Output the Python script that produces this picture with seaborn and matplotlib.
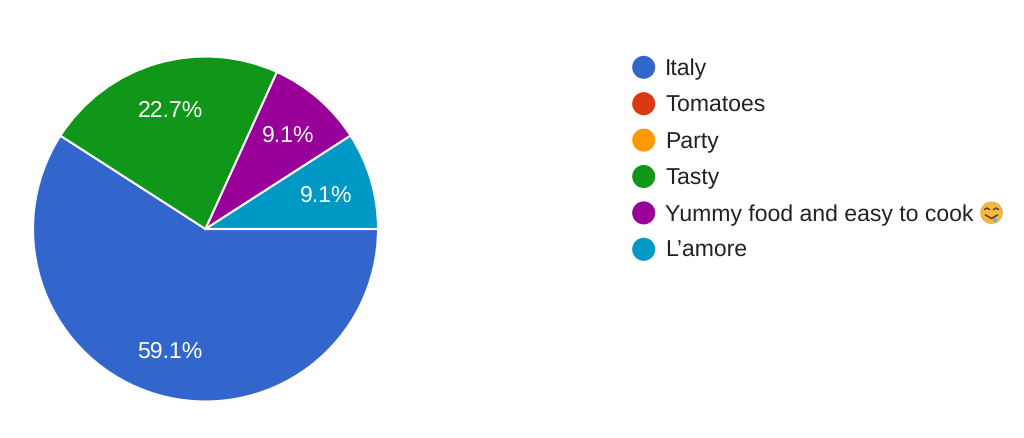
import matplotlib
matplotlib.use("Agg")
import matplotlib.pyplot as plt
from matplotlib.patches import Circle
import seaborn as sns

labels = ['Italy', 'Tomatoes', 'Party', 'Tasty', 'Yummy food and easy to cook', 'L\u2019amore']
values = [59.1, 0, 0, 22.7, 9.1, 9.1]
colors = ['#3366cc', '#dc3912', '#ff9900', '#109618', '#990099', '#0099c6']

sns.set_theme(style='white')
plt.rcParams['font.family'] = ['Liberation Sans', 'DejaVu Sans']
plt.rcParams['text.hinting'] = 'no_hinting'
plt.rcParams['text.hinting_factor'] = 1

fig = plt.figure(figsize=(10.24, 4.38), dpi=100)
W, H = 1024, 438

# pie centred on 205.5,229 with radius 172.5
ax = fig.add_axes([(205.5 - 172.5) / W, 1 - (229 + 172.5) / H, 345 / W, 345 / H])
shown = [(v, c) for v, c in zip(values, colors) if v > 0]
wedges, texts, pcts = ax.pie([s[0] for s in shown], colors=[s[1] for s in shown], startangle=0, counterclock=False,
                             radius=1, wedgeprops={'edgecolor': 'white', 'linewidth': 1.5},
                             autopct='%.1f%%', pctdistance=0.73,
                             textprops={'color': 'white', 'fontsize': 16.7})
for t in pcts:
    t.set_va('center_baseline')
ax.set_xlim(-1, 1)
ax.set_ylim(-1, 1)

# legend drawn on a full figure axes in pixel coordinates
lax = fig.add_axes([0, 0, 1, 1])
lax.set_xlim(0, W)
lax.set_ylim(H, 0)
lax.axis('off')
lax.patch.set_alpha(0)
for i, (lab, c) in enumerate(zip(labels, colors)):
    y = 67.3 + i * 36.4
    lax.add_patch(Circle((643.7, y), 11.5, color=c, lw=0))
    lax.text(665, y - 0.4, lab, fontsize=16.6, color='#222222', va='center_baseline', ha='left')

# emoji stand-in after the long label
lax.add_patch(Circle((991.5, 212.7), 10.7, facecolor='#f7b93e', edgecolor='#e8a030', lw=0.6))
lax.plot([984.5, 987, 989.5], [209.5, 208, 209.5], color='#6b3a12', lw=1.1)
lax.plot([993.5, 996, 998.5], [209.5, 208, 209.5], color='#6b3a12', lw=1.1)
lax.plot([985.5, 991.5, 997.5], [215, 218.5, 215], color='#6b3a12', lw=1.2)
lax.add_patch(Circle((995, 220), 2, color='#58b7e8', lw=0))

fig.savefig('out.png', dpi=100)
